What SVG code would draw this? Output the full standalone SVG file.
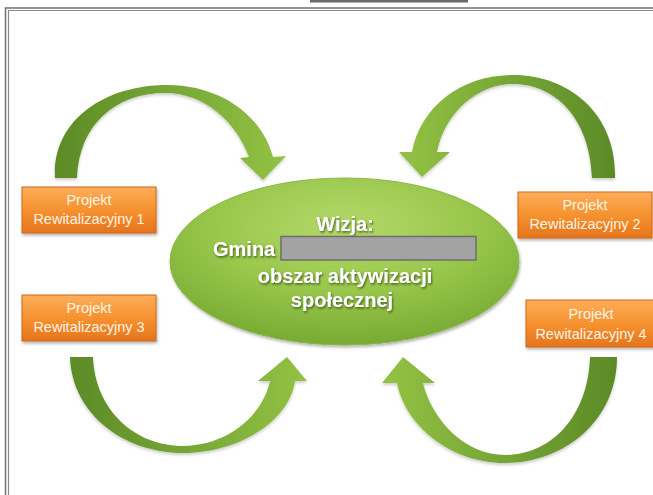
<svg xmlns="http://www.w3.org/2000/svg" width="653" height="495" viewBox="0 0 653 495">
<defs>
<style>
.box{stroke:#d0661a;stroke-width:1;fill:url(#orange);filter:url(#sh)}
.btxt{font-family:"Liberation Sans",Arial,sans-serif;font-size:14.5px;fill:#fff4e6;text-anchor:middle}
.vt{font-family:"Liberation Sans",Arial,sans-serif;font-size:20px;font-weight:bold;fill:#ffffff;filter:url(#tsh)}
.arrow{stroke:none;filter:url(#ash)}
</style>
<linearGradient id="orange" x1="0" y1="0" x2="0" y2="1">
<stop offset="0" stop-color="#fcae5a"/>
<stop offset="0.5" stop-color="#f6922f"/>
<stop offset="1" stop-color="#e6741c"/>
</linearGradient>
<linearGradient id="gL2R" x1="0" y1="0" x2="1" y2="0">
<stop offset="0" stop-color="#5c8a27"/>
<stop offset="0.55" stop-color="#79aa36"/>
<stop offset="1" stop-color="#93c244"/>
</linearGradient>
<linearGradient id="gR2L" x1="1" y1="0" x2="0" y2="0">
<stop offset="0" stop-color="#5c8a27"/>
<stop offset="0.55" stop-color="#79aa36"/>
<stop offset="1" stop-color="#93c244"/>
</linearGradient>
<radialGradient id="green" cx="0.5" cy="0.3" r="0.7">
<stop offset="0" stop-color="#b4d96a"/>
<stop offset="0.55" stop-color="#98c64b"/>
<stop offset="1" stop-color="#78aa33"/>
</radialGradient>
<filter id="sh" x="-10%" y="-20%" width="120%" height="150%">
<feDropShadow dx="1" dy="2" stdDeviation="1.5" flood-color="#000" flood-opacity="0.3"/>
</filter>
<filter id="ash" x="-10%" y="-10%" width="120%" height="130%">
<feDropShadow dx="0" dy="2" stdDeviation="1.5" flood-color="#000" flood-opacity="0.2"/>
</filter>
<filter id="tsh" x="-10%" y="-30%" width="120%" height="160%">
<feDropShadow dx="1" dy="1.5" stdDeviation="0.8" flood-color="#2d4510" flood-opacity="0.8"/>
</filter>
</defs>
<rect width="653" height="495" fill="#ffffff"/>
<g id="frame" fill="none">
<rect x="310" y="0" width="158" height="2.5" fill="#6a6a6a"/>
<path d="M5.5 495 V8 H653" stroke="#707070" stroke-width="1.5"/>
<path d="M8.5 495 V10.5 H653" stroke="#8a8a8a" stroke-width="1.2"/>
</g>
<g id="connectors">
<path class="arrow" fill="url(#gL2R)" d="M55 178 C52 120 105 85 167 85 C220 85 262 115 273 157 L286 156 L263 180 L240 158 L249 157 C236 122 205 93 165 93 C115 93 79 125 77 178 Z"/>
<path class="arrow" fill="url(#gR2L)" d="M615 178 C617 115 570 75 513 75 C460 75 420 108 412 152 L399 152 L422 177 L450 152 L437 152 C445 112 478 84 513 84 C555 84 590 118 592 178 Z"/>
<path class="arrow" fill="url(#gL2R)" d="M70 357 C72 415 125 453 183 453 C240 453 290 420 295 381 L307 381 L287 357 L258 381 L270 381 C262 418 225 446 183 446 C135 446 95 410 93 357 Z"/>
<path class="arrow" fill="url(#gR2L)" d="M617 357 C617 420 565 463 505 463 C450 463 405 425 397 383 L382 383 L403 357 L435 383 L423 383 C432 420 465 455 505 455 C550 455 588 418 590 357 Z"/>
</g>
<g id="vision">
<ellipse cx="344.5" cy="261.5" rx="174.5" ry="83.5" fill="url(#green)" stroke="#8ab845" stroke-width="1" filter="url(#sh)"/>
<text class="vt" x="345" y="231" text-anchor="middle">Wizja:</text>
<text class="vt" x="213" y="256">Gmina</text>
<rect x="281" y="236.5" width="195" height="23.5" fill="#a3a3a3" stroke="#6e6e6e" stroke-width="1.5"/>
<text class="vt" x="345" y="283" text-anchor="middle">obszar aktywizacji</text>
<text class="vt" x="342" y="307" text-anchor="middle">społecznej</text>
</g>
<g id="p1">
<rect class="box" x="22" y="187" width="134" height="46"/>
<text class="btxt" x="89" y="205">Projekt</text>
<text class="btxt" x="89" y="224">Rewitalizacyjny 1</text>
</g>
<g id="p2">
<rect class="box" x="518" y="192" width="134" height="46"/>
<text class="btxt" x="585" y="210">Projekt</text>
<text class="btxt" x="585" y="229">Rewitalizacyjny 2</text>
</g>
<g id="p3">
<rect class="box" x="22" y="295" width="134" height="46"/>
<text class="btxt" x="89" y="313">Projekt</text>
<text class="btxt" x="89" y="332">Rewitalizacyjny 3</text>
</g>
<g id="p4">
<rect class="box" x="526" y="300" width="130" height="47"/>
<text class="btxt" x="591" y="319">Projekt</text>
<text class="btxt" x="591" y="339">Rewitalizacyjny 4</text>
</g>
</svg>
